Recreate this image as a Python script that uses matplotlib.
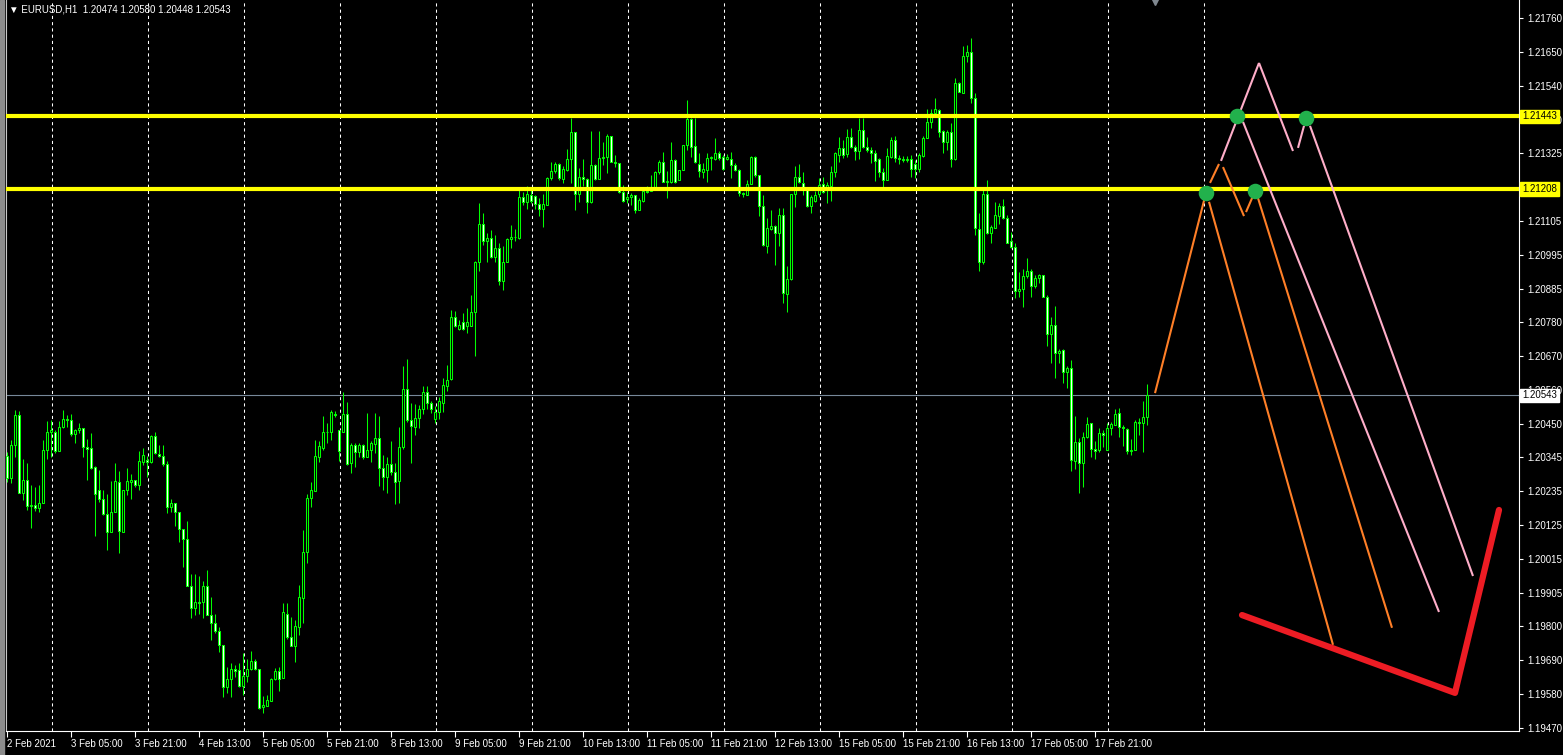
import numpy as np
import matplotlib.pyplot as plt
from matplotlib.transforms import blended_transform_factory
from matplotlib.patches import Rectangle

plt.rcParams['font.family'] = ['Liberation Sans', 'DejaVu Sans']

# EURUSD H1 candles, 2 Feb 13:00 .. 18 Feb 10:00
opens = [
    1.20347, 1.20275, 1.20384, 1.20479, 1.20229, 1.20270, 1.20187, 1.20189, 1.20178, 1.20196,
    1.20366, 1.20425, 1.20425, 1.20364, 1.20440, 1.20468, 1.20462, 1.20417, 1.20431, 1.20439,
    1.20375, 1.20372, 1.20310, 1.20239, 1.20208, 1.20159, 1.20103, 1.20167, 1.20262, 1.20103,
    1.20236, 1.20264, 1.20270, 1.20252, 1.20329, 1.20334, 1.20327, 1.20411, 1.20355, 1.20347,
    1.20321, 1.20181, 1.20194, 1.20165, 1.20110, 1.20078, 1.19929, 1.19856, 1.19875, 1.19875,
    1.19928, 1.19834, 1.19807, 1.19784, 1.19739, 1.19601, 1.19627, 1.19659, 1.19657, 1.19606,
    1.19637, 1.19659, 1.19686, 1.19660, 1.19538, 1.19542, 1.19558, 1.19627, 1.19653, 1.19630,
    1.19839, 1.19764, 1.19735, 1.19796, 1.19890, 1.20036, 1.20210, 1.20235, 1.20345, 1.20374,
    1.20423, 1.20425, 1.20482, 1.20431, 1.20423, 1.20481, 1.20323, 1.20382, 1.20361, 1.20382,
    1.20345, 1.20365, 1.20386, 1.20404, 1.20308, 1.20279, 1.20321, 1.20294, 1.20265, 1.20375,
    1.20562, 1.20463, 1.20442, 1.20469, 1.20498, 1.20553, 1.20517, 1.20466, 1.20490, 1.20519,
    1.20574, 1.20595, 1.20795, 1.20756, 1.20779, 1.20768, 1.20768, 1.20811, 1.20972, 1.21096,
    1.21039, 1.21050, 1.20990, 1.21017, 1.20910, 1.20974, 1.21047, 1.21052, 1.21050, 1.21184,
    1.21165, 1.21188, 1.21186, 1.21160, 1.21144, 1.21157, 1.21243, 1.21268, 1.21289, 1.21240,
    1.21270, 1.21304, 1.21392, 1.21192, 1.21246, 1.21240, 1.21165, 1.21286, 1.21240, 1.21308,
    1.21310, 1.21380, 1.21297, 1.21292, 1.21200, 1.21175, 1.21184, 1.21189, 1.21139, 1.21169,
    1.21203, 1.21203, 1.21214, 1.21262, 1.21297, 1.21232, 1.21230, 1.21302, 1.21236, 1.21270,
    1.21351, 1.21433, 1.21347, 1.21289, 1.21262, 1.21270, 1.21308, 1.21304, 1.21326, 1.21313,
    1.21304, 1.21304, 1.21286, 1.21270, 1.21195, 1.21189, 1.21223, 1.21313, 1.21254, 1.21152,
    1.21026, 1.21079, 1.21089, 1.21068, 1.21124, 1.20870, 1.20917, 1.21192, 1.21248, 1.21229,
    1.21207, 1.21154, 1.21171, 1.21191, 1.21223, 1.21216, 1.21219, 1.21264, 1.21318, 1.21339,
    1.21320, 1.21375, 1.21343, 1.21331, 1.21399, 1.21343, 1.21334, 1.21325, 1.21304, 1.21264,
    1.21237, 1.21313, 1.21366, 1.21307, 1.21305, 1.21302, 1.21304, 1.21289, 1.21272, 1.21316,
    1.21372, 1.21423, 1.21452, 1.21463, 1.21395, 1.21361, 1.21393, 1.21304, 1.21549, 1.21519,
    1.21637, 1.21649, 1.21503, 1.21078, 1.20974, 1.21192, 1.21068, 1.21084, 1.21121, 1.21153,
    1.21114, 1.21041, 1.21020, 1.20880, 1.20885, 1.20928, 1.20945, 1.20896, 1.20920, 1.20931,
    1.20861, 1.20739, 1.20770, 1.20678, 1.20689, 1.20619, 1.20630, 1.20332, 1.20393, 1.20323,
    1.20407, 1.20452, 1.20371, 1.20368, 1.20420, 1.20368, 1.20436, 1.20447, 1.20485, 1.20442,
    1.20433, 1.20364, 1.20368, 1.20458, 1.20455, 1.20474,
]
highs = [
    1.20361, 1.20398, 1.20497, 1.20492, 1.20336, 1.20323, 1.20253, 1.20246, 1.20253, 1.20398,
    1.20459, 1.20463, 1.20431, 1.20461, 1.20497, 1.20480, 1.20481, 1.20435, 1.20455, 1.20439,
    1.20403, 1.20420, 1.20315, 1.20302, 1.20237, 1.20226, 1.20267, 1.20323, 1.20300, 1.20237,
    1.20307, 1.20289, 1.20270, 1.20364, 1.20372, 1.20347, 1.20415, 1.20423, 1.20382, 1.20382,
    1.20331, 1.20208, 1.20194, 1.20165, 1.20110, 1.20136, 1.19965, 1.19965, 1.19961, 1.19944,
    1.19979, 1.19893, 1.19839, 1.19796, 1.19739, 1.19667, 1.19678, 1.19673, 1.19678, 1.19710,
    1.19691, 1.19718, 1.19691, 1.19660, 1.19573, 1.19576, 1.19630, 1.19662, 1.19665, 1.19872,
    1.19872, 1.19829, 1.19818, 1.19931, 1.20108, 1.20224, 1.20264, 1.20398, 1.20395, 1.20476,
    1.20455, 1.20495, 1.20493, 1.20431, 1.20552, 1.20522, 1.20388, 1.20388, 1.20388, 1.20386,
    1.20485, 1.20396, 1.20485, 1.20476, 1.20351, 1.20345, 1.20394, 1.20324, 1.20442, 1.20638,
    1.20659, 1.20517, 1.20515, 1.20512, 1.20573, 1.20573, 1.20523, 1.20507, 1.20537, 1.20598,
    1.20641, 1.20818, 1.20815, 1.20786, 1.20808, 1.20824, 1.20867, 1.20977, 1.21163, 1.21130,
    1.21066, 1.21077, 1.21060, 1.21034, 1.21023, 1.21050, 1.21093, 1.21079, 1.21216, 1.21200,
    1.21218, 1.21206, 1.21188, 1.21179, 1.21192, 1.21246, 1.21297, 1.21297, 1.21292, 1.21283,
    1.21337, 1.21437, 1.21392, 1.21275, 1.21306, 1.21243, 1.21396, 1.21289, 1.21396, 1.21361,
    1.21386, 1.21380, 1.21318, 1.21292, 1.21222, 1.21200, 1.21197, 1.21189, 1.21179, 1.21216,
    1.21218, 1.21254, 1.21265, 1.21302, 1.21329, 1.21265, 1.21361, 1.21304, 1.21270, 1.21351,
    1.21496, 1.21437, 1.21437, 1.21326, 1.21292, 1.21326, 1.21315, 1.21372, 1.21332, 1.21318,
    1.21322, 1.21329, 1.21292, 1.21272, 1.21200, 1.21238, 1.21315, 1.21315, 1.21254, 1.21189,
    1.21114, 1.21139, 1.21093, 1.21146, 1.21146, 1.20960, 1.21192, 1.21283, 1.21289, 1.21262,
    1.21216, 1.21189, 1.21203, 1.21243, 1.21248, 1.21232, 1.21282, 1.21329, 1.21375, 1.21368,
    1.21402, 1.21404, 1.21350, 1.21436, 1.21436, 1.21377, 1.21345, 1.21334, 1.21307, 1.21275,
    1.21339, 1.21375, 1.21379, 1.21318, 1.21315, 1.21315, 1.21318, 1.21302, 1.21325, 1.21379,
    1.21465, 1.21465, 1.21501, 1.21465, 1.21399, 1.21399, 1.21420, 1.21568, 1.21554, 1.21669,
    1.21673, 1.21694, 1.21517, 1.21130, 1.21205, 1.21237, 1.21092, 1.21167, 1.21162, 1.21175,
    1.21124, 1.21071, 1.21033, 1.20942, 1.20949, 1.20985, 1.20949, 1.20931, 1.20934, 1.20931,
    1.20866, 1.20794, 1.20831, 1.20691, 1.20691, 1.20637, 1.20657, 1.20476, 1.20404, 1.20425,
    1.20472, 1.20454, 1.20395, 1.20436, 1.20431, 1.20452, 1.20458, 1.20498, 1.20501, 1.20447,
    1.20436, 1.20401, 1.20463, 1.20471, 1.20526, 1.20580,
]
lows = [
    1.20264, 1.20259, 1.20345, 1.20229, 1.20205, 1.20173, 1.20114, 1.20171, 1.20167, 1.20196,
    1.20339, 1.20345, 1.20358, 1.20364, 1.20436, 1.20441, 1.20413, 1.20388, 1.20420, 1.20345,
    1.20270, 1.20305, 1.20090, 1.20200, 1.20157, 1.20044, 1.20103, 1.20167, 1.20035, 1.20103,
    1.20221, 1.20208, 1.20248, 1.20237, 1.20318, 1.20280, 1.20325, 1.20355, 1.20345, 1.20315,
    1.20162, 1.20167, 1.20122, 1.20071, 1.19990, 1.19929, 1.19825, 1.19834, 1.19839, 1.19823,
    1.19834, 1.19753, 1.19775, 1.19716, 1.19569, 1.19581, 1.19571, 1.19635, 1.19601, 1.19576,
    1.19619, 1.19657, 1.19657, 1.19530, 1.19519, 1.19541, 1.19558, 1.19624, 1.19590, 1.19630,
    1.19756, 1.19735, 1.19684, 1.19770, 1.19807, 1.20003, 1.20183, 1.20235, 1.20329, 1.20366,
    1.20390, 1.20398, 1.20474, 1.20331, 1.20423, 1.20318, 1.20293, 1.20310, 1.20345, 1.20339,
    1.20343, 1.20329, 1.20356, 1.20249, 1.20238, 1.20229, 1.20286, 1.20193, 1.20197, 1.20369,
    1.20458, 1.20326, 1.20415, 1.20437, 1.20483, 1.20499, 1.20485, 1.20453, 1.20466, 1.20490,
    1.20558, 1.20593, 1.20763, 1.20752, 1.20754, 1.20743, 1.20765, 1.20671, 1.20944, 1.21028,
    1.20974, 1.20985, 1.20974, 1.20899, 1.20883, 1.20972, 1.21017, 1.21039, 1.21047, 1.21157,
    1.21143, 1.21163, 1.21144, 1.21120, 1.21087, 1.21157, 1.21238, 1.21259, 1.21238, 1.21227,
    1.21265, 1.21227, 1.21139, 1.21168, 1.21219, 1.21130, 1.21163, 1.21236, 1.21240, 1.21286,
    1.21259, 1.21295, 1.21279, 1.21195, 1.21168, 1.21163, 1.21157, 1.21132, 1.21139, 1.21168,
    1.21195, 1.21203, 1.21209, 1.21257, 1.21232, 1.21179, 1.21229, 1.21229, 1.21236, 1.21270,
    1.21335, 1.21313, 1.21292, 1.21246, 1.21245, 1.21230, 1.21270, 1.21302, 1.21302, 1.21270,
    1.21302, 1.21243, 1.21265, 1.21186, 1.21184, 1.21189, 1.21223, 1.21248, 1.21120, 1.21023,
    1.21001, 1.21077, 1.20964, 1.21023, 1.20840, 1.20813, 1.20915, 1.21150, 1.21227, 1.21189,
    1.21151, 1.21130, 1.21167, 1.21183, 1.21194, 1.21164, 1.21170, 1.21248, 1.21296, 1.21307,
    1.21313, 1.21339, 1.21302, 1.21305, 1.21339, 1.21329, 1.21293, 1.21235, 1.21248, 1.21216,
    1.21237, 1.21307, 1.21296, 1.21289, 1.21296, 1.21296, 1.21248, 1.21243, 1.21264, 1.21313,
    1.21372, 1.21406, 1.21452, 1.21377, 1.21325, 1.21334, 1.21280, 1.21302, 1.21520, 1.21517,
    1.21617, 1.21485, 1.21060, 1.20945, 1.20968, 1.21063, 1.21033, 1.21081, 1.21094, 1.21110,
    1.21033, 1.21017, 1.20856, 1.20861, 1.20829, 1.20920, 1.20861, 1.20888, 1.20904, 1.20861,
    1.20702, 1.20648, 1.20598, 1.20646, 1.20581, 1.20568, 1.20300, 1.20304, 1.20229, 1.20246,
    1.20404, 1.20345, 1.20339, 1.20361, 1.20377, 1.20368, 1.20415, 1.20447, 1.20409, 1.20379,
    1.20354, 1.20350, 1.20366, 1.20415, 1.20361, 1.20448,
]
closes = [
    1.20275, 1.20384, 1.20479, 1.20229, 1.20270, 1.20187, 1.20189, 1.20178, 1.20197, 1.20368,
    1.20425, 1.20431, 1.20364, 1.20440, 1.20468, 1.20462, 1.20417, 1.20431, 1.20436, 1.20375,
    1.20370, 1.20309, 1.20223, 1.20208, 1.20159, 1.20103, 1.20167, 1.20266, 1.20106, 1.20236,
    1.20265, 1.20270, 1.20252, 1.20331, 1.20349, 1.20327, 1.20411, 1.20358, 1.20347, 1.20321,
    1.20181, 1.20194, 1.20165, 1.20110, 1.20078, 1.19929, 1.19856, 1.19875, 1.19872, 1.19928,
    1.19834, 1.19807, 1.19784, 1.19739, 1.19601, 1.19627, 1.19659, 1.19655, 1.19606, 1.19637,
    1.19659, 1.19686, 1.19659, 1.19535, 1.19544, 1.19560, 1.19627, 1.19653, 1.19628, 1.19843,
    1.19764, 1.19735, 1.19799, 1.19891, 1.20036, 1.20210, 1.20237, 1.20348, 1.20379, 1.20423,
    1.20425, 1.20488, 1.20478, 1.20364, 1.20481, 1.20321, 1.20382, 1.20361, 1.20382, 1.20343,
    1.20366, 1.20388, 1.20404, 1.20308, 1.20279, 1.20321, 1.20294, 1.20262, 1.20375, 1.20562,
    1.20462, 1.20445, 1.20469, 1.20498, 1.20553, 1.20517, 1.20498, 1.20490, 1.20523, 1.20576,
    1.20593, 1.20795, 1.20765, 1.20770, 1.20756, 1.20779, 1.20811, 1.20972, 1.21096, 1.21039,
    1.21050, 1.20988, 1.21017, 1.20910, 1.20974, 1.21047, 1.21053, 1.21055, 1.21184, 1.21165,
    1.21192, 1.21171, 1.21160, 1.21145, 1.21159, 1.21243, 1.21268, 1.21289, 1.21243, 1.21272,
    1.21306, 1.21392, 1.21192, 1.21246, 1.21240, 1.21165, 1.21286, 1.21241, 1.21308, 1.21313,
    1.21380, 1.21297, 1.21292, 1.21200, 1.21171, 1.21184, 1.21189, 1.21139, 1.21173, 1.21203,
    1.21200, 1.21214, 1.21262, 1.21297, 1.21232, 1.21235, 1.21302, 1.21232, 1.21270, 1.21351,
    1.21433, 1.21345, 1.21294, 1.21265, 1.21273, 1.21308, 1.21310, 1.21326, 1.21308, 1.21273,
    1.21313, 1.21286, 1.21270, 1.21195, 1.21192, 1.21224, 1.21311, 1.21252, 1.21152, 1.21028,
    1.21082, 1.21089, 1.21068, 1.21124, 1.20872, 1.20917, 1.21192, 1.21248, 1.21230, 1.21216,
    1.21154, 1.21181, 1.21189, 1.21221, 1.21200, 1.21221, 1.21264, 1.21323, 1.21339, 1.21318,
    1.21377, 1.21343, 1.21331, 1.21399, 1.21343, 1.21334, 1.21325, 1.21300, 1.21264, 1.21237,
    1.21315, 1.21366, 1.21307, 1.21305, 1.21302, 1.21304, 1.21272, 1.21272, 1.21318, 1.21372,
    1.21423, 1.21452, 1.21465, 1.21393, 1.21361, 1.21393, 1.21305, 1.21549, 1.21522, 1.21637,
    1.21651, 1.21503, 1.21081, 1.20972, 1.21192, 1.21068, 1.21087, 1.21124, 1.21153, 1.21114,
    1.21033, 1.21020, 1.20880, 1.20885, 1.20928, 1.20945, 1.20896, 1.20920, 1.20931, 1.20861,
    1.20739, 1.20770, 1.20678, 1.20687, 1.20619, 1.20630, 1.20334, 1.20393, 1.20323, 1.20407,
    1.20450, 1.20371, 1.20364, 1.20420, 1.20416, 1.20436, 1.20449, 1.20483, 1.20442, 1.20436,
    1.20364, 1.20368, 1.20458, 1.20455, 1.20472, 1.20543,
]

# time axis labels every 16 bars, day separators (bar index of 00:00)
time_labels = ["2 Feb 2021", "3 Feb 05:00", "3 Feb 21:00", "4 Feb 13:00", "5 Feb 05:00",
               "5 Feb 21:00", "8 Feb 13:00", "9 Feb 05:00", "9 Feb 21:00", "10 Feb 13:00",
               "11 Feb 05:00", "11 Feb 21:00", "12 Feb 13:00", "15 Feb 05:00", "15 Feb 21:00",
               "16 Feb 13:00", "17 Feb 05:00", "17 Feb 21:00"]
label_step = 16
day_starts = [11, 35, 59, 83, 107, 131, 155, 179, 203, 227, 251, 275, 299]

price_ticks = [1.19470, 1.19580, 1.19690, 1.19800, 1.19905, 1.20015, 1.20125, 1.20235,
               1.20345, 1.20450, 1.20560, 1.20670, 1.20780, 1.20885, 1.20995, 1.21105,
               1.21215, 1.21325, 1.21430, 1.21540, 1.21650, 1.21760]
hidden_tick = 1.21215  # fully covered by the 1.21208 price box

levels = [1.21443, 1.21208]
last_price = 1.20543
title = "EURUSD,H1  1.20474 1.20580 1.20448 1.20543"

# hand drawn projection (bar index, price)
orange_lines = [
    [(287.0, 1.20550), (299.75, 1.21196)],
    [(300.75, 1.21228), (303.0, 1.21289)],
    [(304.0, 1.21279), (309.25, 1.21121)],
    [(309.75, 1.21134), (311.5, 1.21186)],
    [(312.75, 1.21179), (346.25, 1.19793)],
    [(300.5, 1.21167), (331.5, 1.19738)],
]
pink_lines = [
    [(303.5, 1.21299), (313.0, 1.21615)],
    [(313.0, 1.21615), (321.5, 1.21331)],
    [(322.75, 1.21341), (324.25, 1.21412)],
    [(325.75, 1.21412), (366.5, 1.19960)],
    [(309.0, 1.21425), (358.0, 1.19844)],
]
red_x = [308.75, 362.0, 373.0]
red_y = [1.19834, 1.19583, 1.20173]
dots_x = [299.75, 307.6, 324.75, 312.0]
dots_y = [1.21196, 1.21443, 1.21436, 1.21201]

W, H = 1563, 755
fig = plt.figure(figsize=(W / 100, H / 100), dpi=100, facecolor='black')
ax = fig.add_axes([6 / W, 24 / H, 1513 / W, 731 / H])
ax.set_facecolor('black')
fig.patches.append(Rectangle((0, 0), 4 / W, 1, transform=fig.transFigure,
                             color='#8c8c8c', zorder=0))

x = np.arange(len(opens))
o = np.array(opens)
c = np.array(closes)
lime = '#00ff00'

# grid and levels
for d in day_starts:
    ax.axvline(d + 0.25, color='white', lw=0.75, ls=(0, (3, 3)), zorder=1)
ax.axhline(last_price, color='#778899', lw=0.8, zorder=1)

# candles
ax.vlines(x, lows, highs, color=lime, lw=0.75, zorder=2)
fills = np.where(c < o, 'white', 'black')
ax.bar(x, c - o, bottom=o, width=0.5, color=fills, edgecolor=lime,
       linewidth=0.75, zorder=3)

for lv in levels:
    ax.axhline(lv, color='#ffff00', lw=3, zorder=4)

# projection drawing
for seg in orange_lines:
    xs, ys = zip(*seg)
    ax.plot(xs, ys, color='#ff7f27', lw=1.5, solid_capstyle='butt', zorder=5)
for seg in pink_lines:
    xs, ys = zip(*seg)
    ax.plot(xs, ys, color='#ffaec9', lw=1.5, solid_capstyle='butt', zorder=5)
ax.plot(red_x, red_y, color='#ed1c24', lw=4.5, solid_capstyle='round',
        solid_joinstyle='round', zorder=6)
ax.scatter(dots_x, dots_y, s=125, color='#22b14c', zorder=7, linewidths=0)

# axes
ax.set_xlim(-0.25, 378)
ax.set_ylim(1.19460, 1.21818)
ax.spines['top'].set_visible(False)
ax.spines['left'].set_color('#c8c8c8')
ax.spines['right'].set_color('white')
ax.spines['bottom'].set_color('white')
for s in ax.spines.values():
    s.set_linewidth(0.8)

ax.yaxis.tick_right()
ax.set_yticks(price_ticks)
ax.set_yticklabels(["" if p == hidden_tick else f"{p:.5f}" for p in price_ticks])
ax.tick_params(axis='y', colors='white', labelsize=7, length=3, width=0.8, pad=3)

ax.set_xticks(np.arange(len(time_labels)) * label_step)
ax.set_xticklabels(time_labels)
ax.tick_params(axis='x', colors='white', labelsize=7, length=4, width=0.8, pad=2)
for lab in ax.get_xticklabels():
    lab.set_horizontalalignment('left')

tr = blended_transform_factory(ax.transAxes, ax.transData)
for lv in levels:
    ax.text(1.002, lv, f"{lv:.5f}", transform=tr, ha='left', va='center', fontsize=7,
            color='black', clip_on=False, zorder=10,
            bbox=dict(facecolor='#ffff00', edgecolor='#ffff00', pad=1.2))
ax.text(1.002, last_price, f"{last_price:.5f}", transform=tr, ha='left', va='center',
        fontsize=7, color='black', clip_on=False, zorder=10,
        bbox=dict(facecolor='white', edgecolor='white', pad=1.2))

# chart shift marker
tr2 = blended_transform_factory(ax.transData, ax.transAxes)
ax.plot([287], [0.997], marker='v', color='#808890', ms=4, transform=tr2,
        clip_on=False, zorder=10)

fig.text(9 / W, 1 - 10 / H, "\u25bc " + title, color='white', fontsize=7,
         va='center', ha='left')

fig.savefig('out.png', dpi=100, facecolor='black')
